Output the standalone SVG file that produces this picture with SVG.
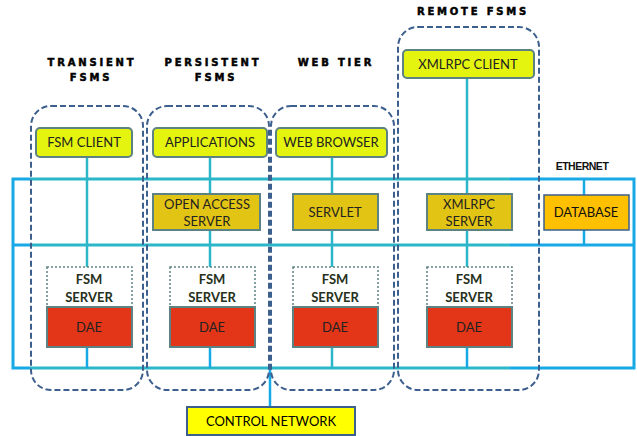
<svg xmlns="http://www.w3.org/2000/svg" width="637" height="436" viewBox="0 0 637 436">
  <style>
    .bus { stroke: #2bb7c9; stroke-width: 3; fill: none; }
    .busb { stroke: #17a9e6; stroke-width: 3; fill: none; }
    .link { stroke: #2bb7c9; stroke-width: 2.5; }
    .linkb { stroke: #17a9e6; stroke-width: 2.5; }
    .grp { fill: none; stroke: #3d5f8e; stroke-width: 2; stroke-dasharray: 6 3; }
    .head { font-family: "DejaVu Sans", sans-serif; font-weight: bold; font-size: 10px; letter-spacing: 2.8px; fill: #000; stroke: #000; stroke-width: 0.5; text-anchor: middle; }
    .client { fill: #e4f40f; stroke: #5d8283; stroke-width: 2; }
    .server { fill: #e2c414; stroke: #5d8283; stroke-width: 2; }
    .fsm { fill: #fff; stroke: #5d8283; stroke-width: 1.5; stroke-dasharray: 2 2; }
    .dae { fill: #e33618; stroke: #5d8283; stroke-width: 2; }
    .lbl { font-family: Lato, "Liberation Sans", sans-serif; font-size: 13px; fill: #222; text-anchor: middle; }
    .bold { font-weight: bold; fill: #26301a; }
  </style>

  <!-- group titles -->
  <text class="head" x="92" y="66">TRANSIENT</text>
  <text class="head" x="91" y="81">FSMS</text>
  <text class="head" x="213" y="66">PERSISTENT</text>
  <text class="head" x="216" y="81">FSMS</text>
  <text class="head" x="336" y="66">WEB TIER</text>
  <text class="head" x="473" y="15">REMOTE FSMS</text>
  <text x="582" y="170" style="font-family:'Liberation Sans',sans-serif;font-weight:bold;font-size:10.5px;letter-spacing:-0.5px;fill:#111;text-anchor:middle">ETHERNET</text>

  <!-- connectors -->
  <g id="connectors">
    <!-- ethernet and control network buses -->
    <polyline class="busb" points="30,179 13,179 13,368 30,368"/>
    <line class="busb" x1="13" y1="245" x2="30" y2="245"/>
    <line class="bus" x1="30" y1="179" x2="510" y2="179"/>
    <line class="bus" x1="30" y1="245" x2="510" y2="245"/>
    <line class="bus" x1="30" y1="368" x2="510" y2="368"/>
    <polyline class="busb" points="510,179 634,179 634,368 510,368"/>
    <line class="busb" x1="510" y1="245" x2="634" y2="245"/>
    <!-- node drops -->
    <line class="link" x1="87" y1="157" x2="87" y2="267"/>
    <line class="linkb" x1="87" y1="347" x2="87" y2="368"/>
    <line class="link" x1="210" y1="157" x2="210" y2="267"/>
    <line class="linkb" x1="210" y1="347" x2="210" y2="368"/>
    <line class="link" x1="332" y1="157" x2="332" y2="267"/>
    <line class="link" x1="332" y1="347" x2="332" y2="368"/>
    <line class="link" x1="467" y1="78" x2="467" y2="267"/>
    <line class="linkb" x1="467" y1="347" x2="467" y2="368"/>
    <line class="linkb" x1="584" y1="179" x2="584" y2="245"/>
    <line class="linkb" x1="270" y1="368" x2="270" y2="407"/>
  </g>

  <!-- tier outlines -->
  <g id="tiers">
    <rect id="tier-transient" class="grp" x="31" y="106" width="112" height="284" rx="20"/>
    <rect id="tier-persistent" class="grp" x="147" y="106" width="122" height="284" rx="20"/>
    <rect id="tier-web" class="grp" x="271" y="106" width="123" height="284" rx="20"/>
    <rect id="tier-remote" class="grp" x="398" y="27" width="141" height="363" rx="20"/>
  </g>

  <!-- client nodes -->
  <g id="fsm-client">
    <rect class="client" x="36" y="128" width="96" height="29" rx="4"/>
    <text class="lbl" x="84" y="147">FSM CLIENT</text>
  </g>
  <g id="applications">
    <rect class="client" x="153" y="128" width="114" height="29" rx="4"/>
    <text class="lbl" x="210" y="147">APPLICATIONS</text>
  </g>
  <g id="web-browser">
    <rect class="client" x="276" y="128" width="111" height="29" rx="4"/>
    <text class="lbl" x="331" y="147">WEB BROWSER</text>
  </g>
  <g id="xmlrpc-client">
    <rect class="client" x="403" y="50" width="131" height="28" rx="4"/>
    <text class="lbl" x="468" y="69">XMLRPC CLIENT</text>
  </g>

  <!-- server nodes -->
  <g id="open-access-server">
    <rect class="server" x="153" y="194" width="107" height="36"/>
    <text class="lbl" x="207" y="209">OPEN ACCESS</text>
    <text class="lbl" x="207" y="226">SERVER</text>
  </g>
  <g id="servlet">
    <rect class="server" x="293" y="194" width="85" height="36"/>
    <text class="lbl" x="335" y="217">SERVLET</text>
  </g>
  <g id="xmlrpc-server">
    <rect class="server" x="427" y="194" width="85" height="36"/>
    <text class="lbl" x="469" y="209">XMLRPC</text>
    <text class="lbl" x="469" y="226">SERVER</text>
  </g>
  <g id="database">
    <rect x="544" y="195" width="85" height="35" style="fill:#ffc000;stroke:#3d5f8e;stroke-width:1.5"/>
    <text class="lbl" x="586" y="217" style="fill:#111">DATABASE</text>
  </g>

  <!-- FSM servers with their DAE -->
  <g id="fsm-server-1">
    <rect class="fsm" x="47" y="267" width="85" height="40"/>
    <text class="lbl bold" x="89" y="284">FSM</text>
    <text class="lbl bold" x="89" y="302">SERVER</text>
    <rect class="dae" x="47" y="307" width="85" height="40"/>
    <text class="lbl" x="89" y="332">DAE</text>
  </g>
  <g id="fsm-server-2">
    <rect class="fsm" x="170" y="267" width="85" height="40"/>
    <text class="lbl bold" x="212" y="284">FSM</text>
    <text class="lbl bold" x="212" y="302">SERVER</text>
    <rect class="dae" x="170" y="307" width="85" height="40"/>
    <text class="lbl" x="212" y="332">DAE</text>
  </g>
  <g id="fsm-server-3">
    <rect class="fsm" x="293" y="267" width="85" height="40"/>
    <text class="lbl bold" x="335" y="284">FSM</text>
    <text class="lbl bold" x="335" y="302">SERVER</text>
    <rect class="dae" x="293" y="307" width="85" height="40"/>
    <text class="lbl" x="335" y="332">DAE</text>
  </g>
  <g id="fsm-server-4">
    <rect class="fsm" x="427" y="267" width="85" height="40"/>
    <text class="lbl bold" x="469" y="284">FSM</text>
    <text class="lbl bold" x="469" y="302">SERVER</text>
    <rect class="dae" x="427" y="307" width="85" height="40"/>
    <text class="lbl" x="469" y="332">DAE</text>
  </g>

  <!-- control network -->
  <g id="control-network">
    <rect x="187" y="407" width="168" height="28" style="fill:#ffff00;stroke:#3d5f8e;stroke-width:2"/>
    <text class="lbl" x="271" y="426" style="fill:#000">CONTROL NETWORK</text>
  </g>
</svg>
